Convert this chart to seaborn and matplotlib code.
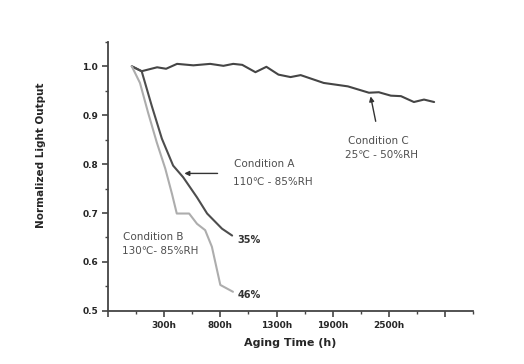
import numpy as np
import pandas as pd
import matplotlib
matplotlib.use("Agg")
import matplotlib.pyplot as plt
import seaborn as sns

# posiciones del eje x (unidades de marca) y salida normalizada de cada condicion
cond_c_x = [0.85, 1.20, 1.75, 2.07, 2.46, 3.04, 3.64, 4.11, 4.46, 4.78, 5.25, 5.64,
            6.07, 6.50, 6.86, 7.68, 8.54, 9.29, 9.64, 10.07, 10.43, 10.89, 11.25, 11.61]
cond_c_y = [1.000, 0.990, 0.998, 0.995, 1.005, 1.002, 1.005, 1.001, 1.005, 1.003, 0.988, 0.999,
            0.983, 0.978, 0.982, 0.966, 0.959, 0.946, 0.947, 0.940, 0.939, 0.927, 0.932, 0.927]

cond_a_x = [0.85, 1.20, 1.56, 1.92, 2.32, 2.68, 3.17, 3.53, 4.06, 4.42]
cond_a_y = [1.000, 0.990, 0.919, 0.852, 0.797, 0.773, 0.732, 0.699, 0.668, 0.654]

cond_b_x = [0.85, 1.14, 1.43, 1.74, 2.04, 2.28, 2.45, 2.89, 3.17, 3.46, 3.70, 4.00, 4.45]
cond_b_y = [1.000, 0.966, 0.905, 0.844, 0.791, 0.739, 0.699, 0.699, 0.678, 0.665, 0.631, 0.553, 0.539]

x_tick_pos = [0, 2, 4, 6, 8, 10, 12]
x_tick_labels = ["", "300h", "800h", "1300h", "1900h", "2500h", ""]
y_ticks = [0.5, 0.6, 0.7, 0.8, 0.9, 1.0]

df = pd.concat([
    pd.DataFrame({"x": cond_c_x, "y": cond_c_y, "cond": "C"}),
    pd.DataFrame({"x": cond_a_x, "y": cond_a_y, "cond": "A"}),
    pd.DataFrame({"x": cond_b_x, "y": cond_b_y, "cond": "B"}),
])

sns.set_style("ticks")
plt.rcParams["font.family"] = ["DejaVu Sans"]

fig = plt.figure(figsize=(5.24, 3.64), dpi=100)
ax = fig.add_axes([0.206, 0.146, 0.697, 0.739])

colores = {"C": "#454545", "A": "#4d4d4d", "B": "#adadad"}
sns.lineplot(data=df, x="x", y="y", hue="cond", palette=colores, estimator=None,
             sort=False, linewidth=1.5, legend=False, ax=ax)

ax.set_xlim(0, 13)
ax.set_ylim(0.5, 1.05)
ax.set_xticks(x_tick_pos)
ax.set_xticklabels(x_tick_labels, fontsize=6.5, fontweight="bold")
ax.set_xticks([1, 3, 5, 7, 9, 11, 13], minor=True)
ax.set_yticks(y_ticks)
ax.set_yticklabels([f"{v:.1f}" for v in y_ticks], fontsize=6.5, fontweight="bold")
ax.set_yticks([0.55, 0.65, 0.75, 0.85, 0.95, 1.05], minor=True)
ax.tick_params(which="major", length=4, width=1.2, color="#444444", pad=3)
ax.tick_params(which="minor", length=2.5, width=1.0, color="#444444")

for s in ["top", "right"]:
    ax.spines[s].set_visible(False)
for s in ["left", "bottom"]:
    ax.spines[s].set_color("#444444")
    ax.spines[s].set_linewidth(1.3)

ax.set_xlabel("Aging Time (h)", fontsize=8, fontweight="bold", labelpad=6)
ax.set_ylabel("Normalized Light Output", fontsize=7.5, fontweight="bold")
ax.yaxis.set_label_coords(-0.17, 0.58)

gris = "#4f4f4f"
# Condicion A
ax.annotate("", xy=(2.62, 0.781), xytext=(4.0, 0.781),
            arrowprops=dict(arrowstyle="-|>", color="#333333", lw=1.0, mutation_scale=7))
ax.text(4.5, 0.800, "Condition A", fontsize=7.5, color=gris, va="center")
ax.text(4.45, 0.764, "110\u2103 - 85%RH", fontsize=7.5, color=gris, va="center")
# Condicion B
ax.text(0.55, 0.652, "Condition B", fontsize=7.5, color=gris, va="center")
ax.text(0.5, 0.623, "130\u2103- 85%RH", fontsize=7.5, color=gris, va="center")
# Condicion C
ax.annotate("", xy=(9.33, 0.944), xytext=(9.55, 0.882),
            arrowprops=dict(arrowstyle="-|>", color="#333333", lw=1.0, mutation_scale=7))
ax.text(8.55, 0.848, "Condition C", fontsize=7.5, color=gris, va="center")
ax.text(8.45, 0.819, "25\u2103 - 50%RH", fontsize=7.5, color=gris, va="center")

ax.text(4.6, 0.644, "35%", fontsize=7, fontweight="bold", color="#333333", va="center")
ax.text(4.6, 0.533, "46%", fontsize=7, fontweight="bold", color="#333333", va="center")

fig.savefig("out.png", dpi=100)
